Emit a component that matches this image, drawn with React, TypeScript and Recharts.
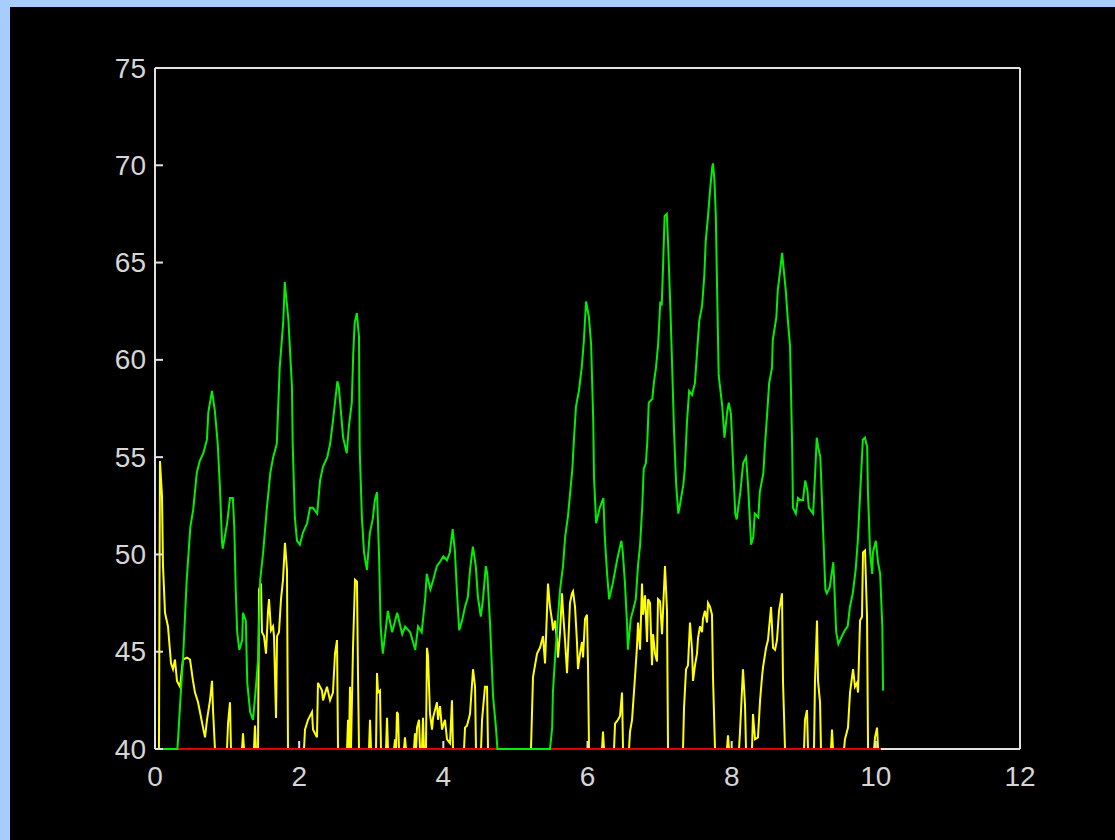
import { LineChart, Line, XAxis, YAxis } from "recharts";

// green trace
const greenT = [
  0, 0.31, 0.32, 0.35, 0.39, 0.44, 0.49, 0.53, 0.58, 0.62, 0.67, 0.72, 0.74, 0.79, 0.83, 0.87, 0.9, 0.93, 0.94,
  1.0, 1.04, 1.08, 1.1, 1.12, 1.14, 1.17, 1.21, 1.22, 1.26, 1.28, 1.32, 1.36, 1.4, 1.43, 1.46, 1.5, 1.55, 1.6,
  1.64, 1.69, 1.73, 1.78, 1.8, 1.85, 1.9, 1.91, 1.94, 1.97, 2.01, 2.05, 2.11, 2.15, 2.19, 2.25, 2.29, 2.33, 2.39,
  2.43, 2.47, 2.53, 2.55, 2.58, 2.61, 2.66, 2.69, 2.73, 2.75, 2.77, 2.8, 2.83, 2.84, 2.87, 2.9, 2.94, 2.98, 3.02,
  3.05, 3.08, 3.11, 3.13, 3.16, 3.19, 3.23, 3.29, 3.36, 3.43, 3.47, 3.54, 3.61, 3.65, 3.7, 3.75, 3.77, 3.82, 3.86,
  3.91, 3.95, 4.0, 4.05, 4.09, 4.13, 4.16, 4.19, 4.22, 4.26, 4.3, 4.34, 4.37, 4.41, 4.45, 4.48, 4.52, 4.55, 4.59,
  4.61, 4.65, 4.69, 4.73, 4.75, 5.48, 5.51, 5.52, 5.55, 5.58, 5.62, 5.66, 5.69, 5.73, 5.79, 5.81, 5.84, 5.88, 5.92,
  5.95, 5.98, 6.02, 6.05, 6.08, 6.09, 6.12, 6.17, 6.22, 6.24, 6.27, 6.3, 6.35, 6.41, 6.47, 6.49, 6.52, 6.55, 6.56,
  6.6, 6.63, 6.67, 6.7, 6.73, 6.76, 6.78, 6.81, 6.83, 6.85, 6.9, 6.92, 6.95, 6.98, 7.01, 7.03, 7.05, 7.07, 7.1,
  7.12, 7.15, 7.17, 7.2, 7.23, 7.26, 7.28, 7.33, 7.35, 7.38, 7.41, 7.45, 7.49, 7.52, 7.55, 7.59, 7.62, 7.64, 7.67,
  7.7, 7.73, 7.74, 7.76, 7.78, 7.8, 7.82, 7.87, 7.9, 7.94, 7.96, 7.99, 8.02, 8.05, 8.07, 8.12, 8.16, 8.2, 8.23,
  8.27, 8.3, 8.32, 8.37, 8.39, 8.44, 8.46, 8.49, 8.52, 8.56, 8.57, 8.62, 8.64, 8.67, 8.7, 8.71, 8.75, 8.78, 8.81,
  8.84, 8.85, 8.89, 8.92, 8.95, 8.99, 9.02, 9.05, 9.07, 9.13, 9.16, 9.18, 9.2, 9.23, 9.27, 9.3, 9.32, 9.36, 9.41,
  9.42, 9.45, 9.48, 9.53, 9.57, 9.61, 9.64, 9.68, 9.72, 9.75, 9.79, 9.82, 9.85, 9.88, 9.89, 9.92, 9.95, 9.96, 10.0,
  10.03, 10.06, 10.09, 10.1,
];
const greenV = [
  40, 40, 40.5, 42.4, 44.7, 48.7, 51.4, 52.3, 54.2, 54.8, 55.2, 55.9, 57.3, 58.4, 57.4, 55.7, 53.5, 50.6, 50.3,
  51.6, 52.9, 52.9, 51.4, 48.2, 46.0, 45.1, 45.6, 47.0, 46.6, 43.4, 41.9, 41.5, 43.2, 44.6, 48.7, 50.1, 52.3, 54.2,
  55.0, 55.7, 59.6, 62.0, 64.0, 62.1, 58.6, 55.7, 51.9, 50.7, 50.5, 51.1, 51.6, 52.4, 52.4, 52.1, 53.8, 54.5, 55.0,
  55.7, 56.9, 58.9, 58.6, 57.3, 56.0, 55.2, 56.6, 57.8, 60.3, 61.9, 62.4, 61.2, 55.4, 51.9, 50.1, 49.2, 51.1, 51.8,
  52.8, 53.2, 49.7, 46.3, 44.9, 45.8, 47.1, 46.0, 47.0, 45.9, 46.3, 46.0, 45.1, 46.3, 46.0, 47.8, 49.0, 48.2, 48.7,
  49.4, 49.6, 49.9, 49.7, 50.1, 51.3, 50.2, 48.0, 46.1, 46.6, 47.3, 47.8, 49.2, 50.4, 49.4, 47.8, 46.8, 47.7, 49.4,
  49.0, 46.3, 42.7, 41.1, 40, 40, 41.1, 42.9, 44.7, 46.3, 48.2, 49.4, 50.9, 52.0, 54.4, 55.8, 57.6, 58.4, 59.6,
  61.0, 63.0, 62.2, 60.8, 56.8, 54.0, 51.6, 52.4, 52.9, 50.9, 49.1, 47.7, 48.5, 49.7, 50.7, 50.1, 48.5, 46.3, 45.1,
  46.7, 47.1, 47.7, 49.4, 50.5, 52.5, 54.4, 54.7, 55.8, 57.8, 58.0, 58.8, 59.6, 60.8, 63.0, 62.8, 65.0, 67.4, 67.5,
  65.8, 62.6, 60.2, 56.4, 53.6, 52.1, 52.5, 53.6, 54.4, 56.8, 58.4, 58.2, 58.8, 60.4, 62.0, 62.8, 64.3, 66.1, 67.3,
  68.7, 69.9, 70.1, 69.3, 67.4, 63.2, 59.2, 57.6, 56.0, 57.4, 57.8, 57.2, 54.6, 52.1, 51.8, 53.2, 54.7, 55.0, 53.4,
  50.5, 50.9, 52.1, 51.9, 53.2, 54.2, 55.5, 57.1, 58.8, 59.6, 61.0, 62.2, 63.6, 64.5, 65.5, 65.1, 63.6, 62.0, 60.7,
  55.4, 52.4, 52.1, 52.9, 52.8, 52.8, 53.8, 53.3, 52.4, 52.1, 54.3, 56.0, 55.5, 55.0, 51.1, 48.2, 48.0, 48.3, 49.6,
  48.8, 46.0, 45.4, 45.8, 46.1, 46.3, 47.3, 48.0, 49.2, 50.7, 53.7, 55.9, 56.0, 55.5, 53.3, 50.1, 49.0, 50.1, 50.7,
  49.6, 49.0, 46.3, 43.0,
];

// yellow trace
const yellowT = [
  0, 0.055, 0.069, 0.097, 0.111, 0.139, 0.18, 0.222, 0.25, 0.277, 0.305, 0.347, 0.388, 0.444, 0.486, 0.527, 0.555,
  0.597, 0.624, 0.666, 0.694, 0.721, 0.763, 0.791, 0.805, 0.832, 0.999, 1.013, 1.04, 1.054, 1.207, 1.221, 1.235,
  1.373, 1.387, 1.401, 1.429, 1.443, 1.471, 1.484, 1.512, 1.54, 1.568, 1.582, 1.609, 1.637, 1.651, 1.679, 1.693,
  1.72, 1.748, 1.776, 1.803, 1.831, 1.845, 2.067, 2.081, 2.123, 2.178, 2.192, 2.247, 2.261, 2.317, 2.331, 2.386,
  2.428, 2.469, 2.497, 2.525, 2.539, 2.664, 2.678, 2.691, 2.705, 2.719, 2.747, 2.775, 2.802, 2.816, 2.83, 2.969,
  2.983, 2.997, 3.066, 3.08, 3.094, 3.121, 3.135, 3.205, 3.219, 3.232, 3.316, 3.33, 3.344, 3.357, 3.371, 3.385,
  3.454, 3.468, 3.482, 3.593, 3.607, 3.621, 3.635, 3.649, 3.663, 3.676, 3.704, 3.718, 3.732, 3.759, 3.773, 3.787,
  3.815, 3.843, 3.857, 3.912, 3.926, 3.954, 3.982, 4.023, 4.051, 4.093, 4.12, 4.134, 4.287, 4.301, 4.328, 4.37,
  4.412, 4.44, 4.453, 4.523, 4.537, 4.578, 4.606, 4.62, 5.216, 5.244, 5.3, 5.341, 5.383, 5.411, 5.438, 5.452, 5.48,
  5.508, 5.521, 5.549, 5.577, 5.591, 5.619, 5.646, 5.66, 5.688, 5.716, 5.757, 5.785, 5.799, 5.827, 5.854, 5.868,
  5.896, 5.924, 5.938, 5.966, 5.993, 6.007, 6.021, 6.201, 6.215, 6.229, 6.368, 6.382, 6.423, 6.451, 6.479, 6.493,
  6.576, 6.59, 6.618, 6.659, 6.687, 6.701, 6.729, 6.756, 6.77, 6.798, 6.826, 6.84, 6.867, 6.895, 6.909, 6.937, 6.964,
  6.978, 7.006, 7.034, 7.048, 7.075, 7.103, 7.117, 7.325, 7.339, 7.367, 7.394, 7.422, 7.45, 7.464, 7.491, 7.519,
  7.533, 7.561, 7.589, 7.602, 7.63, 7.658, 7.672, 7.7, 7.727, 7.741, 7.769, 7.935, 7.949, 7.963, 8.102, 8.116,
  8.157, 8.185, 8.199, 8.282, 8.296, 8.324, 8.365, 8.394, 8.421, 8.435, 8.477, 8.504, 8.546, 8.574, 8.602, 8.629,
  8.657, 8.698, 8.712, 8.74, 9.004, 9.017, 9.045, 9.059, 9.142, 9.156, 9.184, 9.198, 9.226, 9.239, 9.378, 9.392,
  9.406, 9.559, 9.572, 9.614, 9.642, 9.684, 9.711, 9.739, 9.753, 9.781, 9.808, 9.822, 9.85, 9.878, 9.892, 9.975,
  9.989, 10.017, 10.031, 10.06,
];
const yellowV = [
  40, 40, 54.8, 53.0, 49.4, 47.0, 46.3, 44.4, 44.1, 44.6, 43.5, 43.2, 44.6, 44.7, 44.6, 43.5, 42.9,
  42.4, 41.9, 41.1, 40.6, 41.5, 42.5, 43.5, 42.0, 40, 40, 41.3, 42.4, 40, 40, 40.8, 40,
  40, 41.2, 40, 40, 48.2, 48.5, 46.0, 45.8, 44.9, 47.1, 47.7, 46.1, 46.3, 45.8, 41.6, 45.8,
  46.0, 47.7, 48.7, 50.6, 49.2, 40, 40, 41.0, 41.5, 41.9, 41.0, 40.6, 43.4, 43.0, 42.5, 43.2,
  42.5, 42.9, 44.9, 45.6, 40, 40, 41.5, 40, 43.2, 40, 45.2, 48.7, 48.6, 43.9, 40, 40,
  41.5, 40, 40, 43.9, 42.9, 43.0, 40, 40, 41.6, 40, 40, 40.5, 40, 41.9, 41.8, 40,
  40, 40.6, 40, 40, 40.8, 40, 41.1, 41.3, 41.5, 40, 40, 41.6, 40, 40, 45.2, 44.8,
  41.8, 41.0, 41.6, 42.4, 41.5, 42.2, 41.0, 41.5, 40.5, 40.3, 42.5, 40, 40, 41.1, 41.2, 41.8,
  44.1, 43.2, 40, 40, 41.5, 43.2, 43.2, 40, 40, 43.7, 44.9, 45.2, 45.8, 44.4, 47.1, 48.5, 47.3,
  46.6, 46.1, 46.6, 45.6, 44.7, 46.0, 48.0, 47.1, 45.6, 43.9, 47.5, 48.0, 48.1, 47.3, 45.5, 44.1,
  44.9, 45.5, 44.7, 46.7, 46.9, 44.3, 40, 40, 40.9, 40, 40, 41.3, 41.5, 41.7, 42.9, 40,
  40, 40.9, 41.5, 43.7, 45.3, 46.5, 45.1, 48.5, 46.9, 47.9, 45.5, 47.7, 47.5, 44.3, 45.9, 44.9, 44.5,
  47.7, 47.6, 45.9, 47.1, 49.4, 47.1, 40, 40, 42.1, 44.1, 44.3, 46.5, 45.1, 43.5, 44.3, 44.9,
  45.7, 46.3, 46.0, 46.7, 47.1, 46.5, 47.5, 47.3, 46.9, 43.7, 40, 40, 40.7, 40, 40, 40.9,
  44.1, 42.3, 40, 40, 41.8, 40.5, 40.6, 42.5, 43.7, 44.2, 45.2, 45.6, 47.3, 45.2, 45.1, 45.6,
  47.1, 48.0, 43.5, 40, 40, 41.5, 42.0, 40, 40, 43.5, 46.6, 43.5, 42.4, 40, 40, 41.0,
  40, 40, 40.5, 41.1, 42.9, 44.1, 43.2, 43.4, 42.9, 46.6, 46.8, 50.1, 50.2, 46.8, 40, 40,
  40.6, 41.1, 40, 40,
];

// red baseline
const redT = [0, 10.07];
const redV = [40, 40];

// bottom edge of the frame, drawn as a series so the traces sit on top of it
const frameT = [0, 12];
const frameV = [40, 40];

const xTicks = [0, 2, 4, 6, 8, 10, 12];
const yTicks = [40, 45, 50, 55, 60, 65, 70, 75];

const toPoints = (ts: number[], vs: number[]) => ts.map((t, i) => ({ t, v: vs[i] }));

const AXIS = "#e2e2e2";
const LABEL = "#d6d6d6";
const FONT = "'Liberation Sans', Arial, sans-serif";
const TICK = 8;

function LeftTick({ x, y, payload }: any) {
  return (
    <g>
      <line x1={x} y1={y} x2={x + TICK} y2={y} stroke={AXIS} strokeWidth={2} />
      <text x={x - 9} y={y} textAnchor="end" dominantBaseline="central" fill={LABEL} fontSize={28} fontFamily={FONT}>
        {payload.value}
      </text>
    </g>
  );
}

function BottomTick({ x, y, payload }: any) {
  return (
    <g>
      <line x1={x} y1={y - 1} x2={x} y2={y - TICK} stroke={AXIS} strokeWidth={2} />
      <text x={x} y={y + 27} textAnchor="middle" dominantBaseline="central" fill={LABEL} fontSize={28} fontFamily={FONT}>
        {payload.value}
      </text>
    </g>
  );
}

function RightTick({ x, y }: any) {
  return <line x1={x} y1={y} x2={x - TICK} y2={y} stroke={AXIS} strokeWidth={2} />;
}

function TopTick({ x, y }: any) {
  return <line x1={x} y1={y} x2={x} y2={y + TICK} stroke={AXIS} strokeWidth={2} />;
}

export default function App() {
  return (
    <div style={{ width: 1115, height: 840, background: "#a6cdfc", boxSizing: "border-box", paddingLeft: 10, paddingTop: 7 }}>
      <style>{`body{margin:0}`}</style>
      <div style={{ width: 1105, height: 833, background: "#000" }}>
        <LineChart width={1105} height={833} margin={{ top: 31, right: 35, bottom: 61, left: 85 }}>
          <XAxis
            xAxisId="b"
            type="number"
            dataKey="t"
            domain={[0, 12]}
            ticks={xTicks}
            orientation="bottom"
            height={30}
            tickSize={0}
            tickMargin={0}
            tickLine={false}
            axisLine={false}
            tick={<BottomTick />}
          />
          <XAxis
            xAxisId="t"
            type="number"
            dataKey="t"
            domain={[0, 12]}
            ticks={xTicks}
            orientation="top"
            height={30}
            tickSize={0}
            tickMargin={0}
            tickLine={false}
            axisLine={{ stroke: AXIS, strokeWidth: 2 }}
            tick={<TopTick />}
          />
          <YAxis
            yAxisId="l"
            type="number"
            domain={[40, 75]}
            ticks={yTicks}
            orientation="left"
            width={60}
            tickSize={0}
            tickMargin={0}
            tickLine={false}
            axisLine={{ stroke: AXIS, strokeWidth: 2 }}
            tick={<LeftTick />}
          />
          <YAxis
            yAxisId="r"
            type="number"
            domain={[40, 75]}
            ticks={yTicks}
            orientation="right"
            width={60}
            tickSize={0}
            tickMargin={0}
            tickLine={false}
            axisLine={{ stroke: AXIS, strokeWidth: 2 }}
            tick={<RightTick />}
          />
          <Line
            xAxisId="b"
            yAxisId="l"
            data={toPoints(frameT, frameV)}
            dataKey="v"
            type="linear"
            stroke={AXIS}
            strokeWidth={2}
            dot={false}
            isAnimationActive={false}
          />
          <Line
            xAxisId="b"
            yAxisId="l"
            data={toPoints(yellowT, yellowV)}
            dataKey="v"
            type="linear"
            stroke="#ffff00"
            strokeWidth={2}
            dot={false}
            isAnimationActive={false}
          />
          <Line
            xAxisId="b"
            yAxisId="l"
            data={toPoints(redT, redV)}
            dataKey="v"
            type="linear"
            stroke="#e00000"
            strokeWidth={2}
            dot={false}
            isAnimationActive={false}
          />
          <Line
            xAxisId="b"
            yAxisId="l"
            data={toPoints(greenT, greenV)}
            dataKey="v"
            type="linear"
            stroke="#00f000"
            strokeWidth={2}
            dot={false}
            isAnimationActive={false}
          />
        </LineChart>
      </div>
    </div>
  );
}
